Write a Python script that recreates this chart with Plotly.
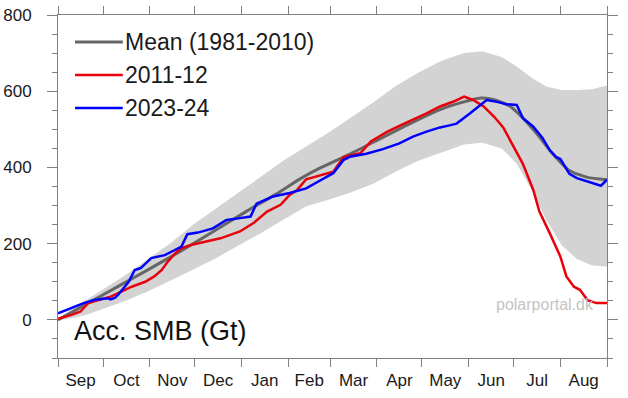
import plotly.graph_objects as go

# x is day-of-season, 0 = 1 Sep, 365 = 31 Aug end
month_start_days = [0, 30, 61, 91, 122, 153, 181, 212, 242, 273, 303, 334, 365]
month_labels = ["Sep", "Oct", "Nov", "Dec", "Jan", "Feb", "Mar", "Apr", "May", "Jun", "Jul", "Aug"]

mean_days = [0, 20, 40, 60, 81, 100, 125, 145, 161, 174, 194, 214, 234, 254, 268, 281, 290, 300, 307, 318, 328, 340, 352, 365]
mean_vals = [0, 44, 88, 132, 179, 224, 284, 330, 370, 398, 435, 475, 515, 552, 570, 582, 578, 562, 538, 490, 440, 392, 374, 368]

band_days = [0, 10, 20, 30, 45, 60, 75, 90, 105, 120, 135, 150, 165, 180, 195, 210, 225, 240, 255, 270, 282, 295, 305, 315, 325, 335, 345, 355, 365]
band_upper = [5, 30, 55, 82, 118, 160, 202, 250, 292, 335, 378, 418, 455, 492, 532, 572, 615, 650, 680, 700, 705, 690, 665, 635, 612, 603, 603, 605, 615]
band_lower = [0, 5, 15, 30, 50, 75, 103, 132, 162, 195, 228, 262, 298, 315, 335, 358, 390, 418, 440, 460, 465, 450, 410, 340, 260, 195, 160, 143, 140]

y1112_days = [0, 9, 15, 20, 27, 35, 40, 49, 58, 64, 69, 73, 78, 82, 89, 94, 108, 121, 130, 139, 148, 154, 159, 165, 174, 183, 190, 201, 208, 219, 228, 236, 245, 254, 263, 270, 276, 283, 290, 296, 303, 309, 316, 320, 327, 334, 338, 343, 347, 352, 358, 365]
y1112_vals = [3, 13, 22, 44, 52, 61, 70, 87, 100, 114, 131, 153, 175, 188, 197, 201, 214, 232, 254, 284, 302, 328, 341, 369, 378, 389, 428, 437, 468, 494, 511, 525, 542, 560, 573, 586, 577, 560, 533, 505, 455, 410, 341, 285, 227, 166, 114, 87, 79, 52, 44, 44]

y2324_days = [0, 5, 11, 17, 24, 30, 33, 35, 38, 40, 44, 47, 51, 55, 62, 71, 78, 82, 86, 93, 103, 112, 121, 128, 132, 143, 154, 165, 174, 183, 190, 194, 205, 216, 227, 236, 245, 254, 261, 265, 274, 280, 285, 292, 298, 305, 309, 316, 322, 327, 331, 334, 340, 345, 351, 357, 361, 365]
y2324_vals = [17, 25, 35, 44, 52, 55, 57, 54, 58, 66, 85, 100, 131, 136, 162, 170, 184, 192, 225, 229, 240, 262, 267, 271, 305, 324, 333, 345, 365, 385, 420, 428, 436, 448, 463, 481, 494, 505, 511, 515, 542, 562, 577, 572, 566, 564, 530, 507, 478, 445, 428, 422, 383, 372, 365, 358, 352, 368]

series_names = ["Mean (1981-2010)", "2011-12", "2023-24"]
series_colors = ["#666666", "#e8000b", "#0000ff"]

FONT = "Liberation Sans, Arial, Helvetica, sans-serif"
AXIS_COLOR = "#808080"

fig = go.Figure()

# grey range band
fig.add_trace(go.Scatter(
    x=band_days + band_days[::-1],
    y=band_upper + band_lower[::-1],
    fill="toself", fillcolor="#d3d3d3", line=dict(width=0),
    mode="lines", hoverinfo="skip", showlegend=False))

fig.add_trace(go.Scatter(x=mean_days, y=mean_vals, mode="lines",
                         line=dict(color=series_colors[0], width=3, shape="spline", smoothing=0.6),
                         name=series_names[0], showlegend=False))
fig.add_trace(go.Scatter(x=y1112_days, y=y1112_vals, mode="lines",
                         line=dict(color=series_colors[1], width=2.5),
                         name=series_names[1], showlegend=False))
fig.add_trace(go.Scatter(x=y2324_days, y=y2324_vals, mode="lines",
                         line=dict(color=series_colors[2], width=2.5),
                         name=series_names[2], showlegend=False))

# invisible trace for month-label axis
month_mid = [(month_start_days[i] + month_start_days[i + 1]) / 2 for i in range(12)]
fig.add_trace(go.Scatter(x=month_mid, y=[None] * 12, xaxis="x2", yaxis="y",
                         mode="markers", showlegend=False, hoverinfo="skip"))

fig.update_layout(
    width=628, height=398,
    margin=dict(l=58, r=21, t=15, b=40),
    paper_bgcolor="white", plot_bgcolor="white",
    font=dict(family=FONT, size=17, color="#1a1a1a"),
    xaxis=dict(range=[0, 365], tickvals=month_start_days, ticktext=[""] * 13,
               ticks="outside", ticklen=8, tickwidth=1, tickcolor=AXIS_COLOR,
               showline=True, linecolor=AXIS_COLOR, linewidth=1, mirror="ticks",
               showgrid=False, zeroline=False, automargin=False),
    xaxis2=dict(range=[0, 365], overlaying="x", anchor="y", side="bottom",
                tickvals=month_mid, ticktext=month_labels, ticks="", showline=False,
                showgrid=False, zeroline=False, tickfont=dict(size=17, color="#1a1a1a"),
                ticklabelstandoff=10, automargin=False),
    yaxis=dict(range=[-100, 800], tickvals=[0, 200, 400, 600, 800],
               ticks="outside", ticklen=10, tickwidth=1, tickcolor=AXIS_COLOR,
               showline=True, linecolor=AXIS_COLOR, linewidth=1, mirror="ticks",
               minor=dict(dtick=50, tick0=0, ticks="outside", ticklen=5, tickcolor=AXIS_COLOR),
               showgrid=False, zeroline=False,
               ticklabelstandoff=12, tickfont=dict(size=17, color="#1a1a1a"),
               automargin=False),
    showlegend=False,
)

# manual legend (line samples + labels) in paper coordinates
leg_y = [0.921, 0.825, 0.729]
for name, color, yy in zip(series_names, series_colors, leg_y):
    fig.add_shape(type="line", xref="paper", yref="paper", x0=0.031, x1=0.118, y0=yy, y1=yy,
                  line=dict(color=color, width=3 if color == "#666666" else 2.5))
    fig.add_annotation(xref="paper", yref="paper", x=0.118, y=yy, text=name, showarrow=False,
                       xanchor="left", yanchor="middle", font=dict(size=23, color="#1a1a1a"))

fig.add_annotation(xref="paper", yref="paper", x=0.026, y=0.079, text="Acc. SMB (Gt)",
                   showarrow=False, xanchor="left", yanchor="middle",
                   font=dict(size=27, color="#111111"))
fig.add_annotation(xref="paper", yref="paper", x=0.98, y=0.155, text="polarportal.dk",
                   showarrow=False, xanchor="right", yanchor="middle",
                   font=dict(size=16, color="#c4c4c4"))

fig.write_html("out.html", config={"displayModeBar": False},
               post_script="document.body.style.margin='0px';")
